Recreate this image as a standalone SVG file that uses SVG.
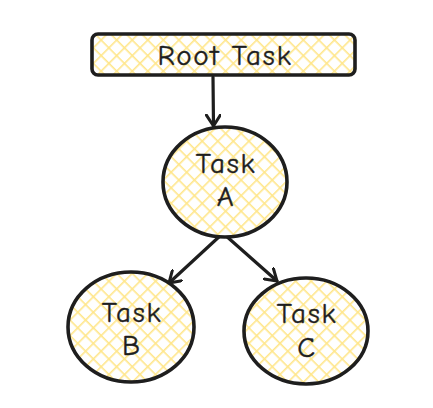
<svg xmlns="http://www.w3.org/2000/svg" width="433" height="408" viewBox="0 0 433 408">
<defs>
<pattern id="hatch" width="11" height="11" patternUnits="userSpaceOnUse" patternTransform="rotate(45)">
<rect width="11" height="11" fill="#ffffff"/>
<line x1="0" y1="0" x2="0" y2="11" stroke="#ffe68a" stroke-width="3.2"/>
<line x1="0" y1="0" x2="11" y2="0" stroke="#ffe68a" stroke-width="3.2"/>
</pattern>
<marker id="arr" markerWidth="16" markerHeight="16" refX="12" refY="8" orient="auto" markerUnits="userSpaceOnUse">
<path d="M1,1 L12,8 L1,15" fill="none" stroke="#1e1e1e" stroke-width="3" stroke-linecap="round" stroke-linejoin="round"/>
</marker>
</defs>
<style>
.shape{fill:url(#hatch);stroke:#1e1e1e;stroke-width:3.6;stroke-linejoin:round}
.lbl{font-family:"Comic Neue","Liberation Sans",sans-serif;font-size:29px;letter-spacing:1.8px;fill:#1e1e1e;stroke:#1e1e1e;stroke-width:0.4;text-anchor:middle}
.conn{stroke:#1e1e1e;stroke-width:3.2;fill:none;stroke-linecap:round}
</style>
<rect width="433" height="408" fill="#ffffff"/>
<g id="connectors">
<path class="conn" d="M213,77 L213.5,126" marker-end="url(#arr)"/>
<path class="conn" d="M221,235 L169,283" marker-end="url(#arr)"/>
<path class="conn" d="M225,235 L277,281" marker-end="url(#arr)"/>
</g>
<g id="root">
<rect class="shape" x="92" y="34" width="263" height="41" rx="6"/>
<text class="lbl" x="225" y="65">Root Task</text>
</g>
<g id="taskA">
<ellipse class="shape" cx="225" cy="182" rx="62" ry="55"/>
<text class="lbl" x="226" y="173">Task</text>
<text class="lbl" x="226" y="206">A</text>
</g>
<g id="taskB">
<ellipse class="shape" cx="131" cy="327" rx="63" ry="55"/>
<text class="lbl" x="132" y="322">Task</text>
<text class="lbl" x="132" y="355">B</text>
</g>
<g id="taskC">
<ellipse class="shape" cx="306" cy="331" rx="62" ry="53"/>
<text class="lbl" x="307" y="323">Task</text>
<text class="lbl" x="307" y="357">C</text>
</g>
</svg>
